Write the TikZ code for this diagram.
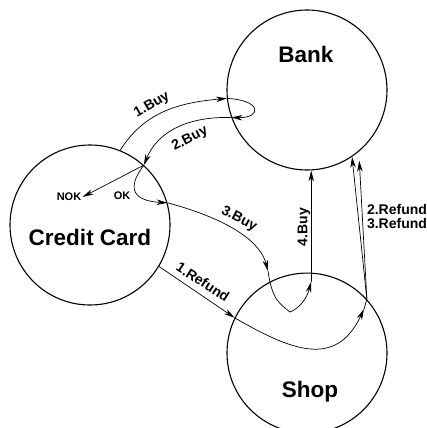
\documentclass[tikz,border=0pt]{standalone}
\usepackage{fontspec}
\setmainfont{Liberation Sans}
\usetikzlibrary{positioning,arrows.meta,calc}
\tikzset{
	deal/.style={>={Stealth[length=11pt,width=5.5pt,inset=3.5pt]},line width=0.7pt,x=1pt,y=1pt},
	party/.style={circle,draw,minimum size=160pt,inner sep=0pt,line width=1.1pt},
	title/.style={font=\fontsize{22.5}{27}\selectfont\bfseries,anchor=base,inner sep=0pt},
	msg/.style={font=\fontsize{14}{16}\selectfont\bfseries,inner sep=1pt},
	reply/.style={font=\fontsize{11}{13}\selectfont\bfseries,inner sep=1pt}
}

\begin{document}
\begin{tikzpicture}[deal]
	\useasboundingbox (0,0) rectangle (427,-428);

	\node[party] (bank) at (307,-90) {};
	\node[party] (shop) [below=102pt of bank] {};
	\node[party] (cc) at (90,-225) {};

	\node[title] (banktxt) at (306,-63) {Bank};
	\node[title] (cctxt) at (90,-245) {Credit Card};
	\node[title] (shoptxt) at (310,-397) {Shop};

	\node[reply] (nok) at (69,-197) {NOK};
	\node[reply] (ok) at (122,-196) {OK};

	% turning points
	\coordinate (down3) at (268,-271);
	\coordinate (dip) at (290,-312);
	\coordinate (up4) at ([yshift=-9pt]shop.87);
	\coordinate (back) at (364,-309);

	% buying
	\draw[->] (cc.68) to[out=58,in=185] (bank.186);
	\draw[->] (bank.186) .. controls (262,-100) and (262,-118) .. (bank.200);
	\draw[->] (bank.200) to[out=178,in=68] (cc.48);
	\draw[->] (cc.48) -- (nok.east);
	\draw[->] (cc.48) .. controls (125,-190) and (135,-201) .. (cc.16);
	\draw[->] (cc.16) .. controls (206,-213) and (258,-233) .. (down3);
	\draw[->] (down3) .. controls (272,-300) and (280,-304) .. (dip)
		.. controls (300,-308) and (307,-298) .. (up4);
	\draw[->] (up4) -- (bank.273);

	% refunds
	\draw[->] (cc.-31) -- (shop.154);
	\draw[->] (shop.154) to[out=-30,in=245,looseness=1.3] (back);
	\draw (back) -- (shop.42);
	\draw[->] (shop.42) -- (bank.-56);
	\draw[->,shorten >=9pt] (shop.42) -- (bank.-50);

	\node[msg,rotate=30] (buy1) at (152,-105) {1.Buy};
	\node[msg,rotate=27] (buy2) at (190,-139) {2.Buy};
	\node[msg,rotate=-28] (buy3) at (239,-219) {3.Buy};
	\node[msg,rotate=90] (buy4) at (304,-227) {4.Buy};
	\node[msg,rotate=-33] (refund1) at (203,-282) {1.Refund};
	\node[msg] (refund2) at (397,-209) {2.Refund};
	\node[msg] (refund3) at (397,-224) {3.Refund};
\end{tikzpicture}
\end{document}
